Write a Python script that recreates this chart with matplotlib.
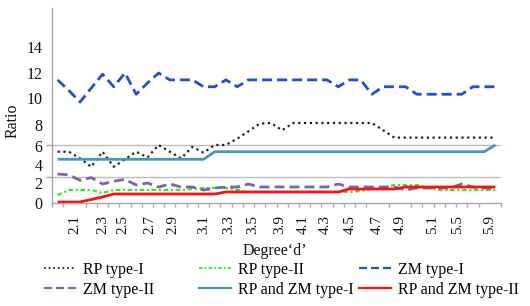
import numpy as np
import matplotlib
matplotlib.use('Agg')
import matplotlib.pyplot as plt
from matplotlib.lines import Line2D

plt.rcParams['font.family'] = ['Liberation Serif', 'DejaVu Serif']

# ---- data ----
x_labels = ['2.1', '2.3', '2.5', '2.7', '2.9', '3.1', '3.3', '3.5', '3.9',
            '4.1', '4.3', '4.5', '4.7', '4.9', '5.1', '5.5', '5.9']
x_label_pos = [1.5, 4.0, 5.8, 8.2, 10.3, 13.0, 15.2, 17.4, 19.8,
               21.9, 23.8, 26.1, 28.5, 30.5, 33.4, 35.6, 38.5]

rp_type1 = [5.4, 5.4, 4.7, 3.8, 5.4, 3.8, 4.6, 5.4, 4.8, 6.1,
            5.4, 4.7, 5.9, 5.3, 6.1, 6.1, 6.7, 7.4, 8.1, 8.15,
            7.5, 8.15, 8.15, 8.15, 8.15, 8.15, 8.15, 8.15, 8.15, 7.5,
            6.8, 6.8, 6.8, 6.8, 6.8, 6.8, 6.8, 6.8, 6.8, 6.8]
rp_type2 = [0.8, 1.3, 1.3, 1.3, 1.0, 1.3, 1.3, 1.3, 1.3, 1.3,
            1.3, 1.3, 1.4, 1.5, 1.5, 1.5, 1.3, 1.1, 1.1, 1.1,
            1.1, 1.1, 1.1, 1.1, 1.1, 1.1, 1.1, 1.2, 1.4, 1.5,
            1.8, 1.8, 1.8, 1.5, 1.3, 1.3, 1.3, 1.3, 1.3, 1.3]
zm_type1 = [11.45, 10.6, 9.7, 10.8, 11.9, 10.9, 12.0, 10.3, 11.2, 12.0,
            11.45, 11.45, 11.45, 10.9, 10.9, 11.45, 10.9, 11.45, 11.45, 11.45,
            11.45, 11.45, 11.45, 11.45, 11.45, 10.9, 11.45, 11.45, 10.3, 10.9,
            10.9, 10.9, 10.3, 10.3, 10.3, 10.3, 10.3, 10.9, 10.9, 10.9]
zm_type2 = [3.0, 2.9, 2.3, 2.6, 1.9, 2.2, 2.4, 1.8, 2.0, 1.6,
            1.9, 1.6, 1.6, 1.3, 1.5, 1.6, 1.6, 1.9, 1.6, 1.6,
            1.6, 1.6, 1.6, 1.6, 1.6, 1.9, 1.6, 1.6, 1.6, 1.6,
            1.6, 1.3, 1.5, 1.5, 1.5, 1.5, 1.9, 1.6, 1.5, 1.5]
rpzm_type1 = [4.6, 4.6, 4.6, 4.6, 4.6, 4.6, 4.6, 4.6, 4.6, 4.6,
              4.6, 4.6, 4.6, 4.6, 5.4, 5.4, 5.4, 5.4, 5.4, 5.4,
              5.4, 5.4, 5.4, 5.4, 5.4, 5.4, 5.4, 5.4, 5.4, 5.4,
              5.4, 5.4, 5.4, 5.4, 5.4, 5.4, 5.4, 5.4, 5.4, 6.1]
rpzm_type2 = [0.1, 0.1, 0.1, 0.35, 0.6, 0.9, 0.9, 0.9, 0.9, 0.9,
              0.9, 0.9, 0.9, 0.9, 0.9, 1.1, 1.1, 1.1, 1.1, 1.1,
              1.1, 1.1, 1.1, 1.1, 1.1, 1.1, 1.4, 1.4, 1.4, 1.4,
              1.4, 1.6, 1.6, 1.6, 1.6, 1.6, 1.6, 1.6, 1.6, 1.6]

y_tick_vals = [0, 2, 4, 6, 8, 10, 12, 14]
grid_levels = [2.67, 6.1, 8, 10, 12, 14]

# the printed axis is not uniform: value -> relative height
scale_vals = [0, 2, 4, 6, 8, 10, 12, 14, 17]
scale_h = [0, 20, 38, 57, 78, 105, 130, 156, 195]

def fwd(v):
    return np.interp(v, scale_vals, scale_h)

def inv(h):
    return np.interp(h, scale_h, scale_vals)

# ---- figure ----
W, H = 530, 306
fig = plt.figure(figsize=(W / 100, H / 100), dpi=100)
ax = fig.add_axes([52 / W, 1 - 203 / H, (501 - 52) / W, (203 - 8) / H])
ax.set_yscale('function', functions=(fwd, inv))

n = len(rp_type1)
x = np.arange(n)

series = [
    (rp_type1, 'RP type-I', dict(color='#202020', lw=1.6, ls=(0, (1, 1.6)))),
    (rp_type2, 'RP type-II', dict(color='#22ee22', lw=1.6, ls=(0, (2, 1.2, 1, 1.2)))),
    (zm_type1, 'ZM type-I', dict(color='#1d4fd8', lw=2.0, ls=(0, (3.6, 1.8)))),
    (zm_type2, 'ZM type-II', dict(color='#7f63a8', lw=2.0, ls=(0, (3.6, 1.8)))),
    (rpzm_type1, 'RP and ZM type-I', dict(color='#4299b2', lw=2.0, ls='-')),
    (rpzm_type2, 'RP and ZM type-II', dict(color='#ff1010', lw=2.0, ls='-')),
]
handles = []
for vals, name, st in series:
    ax.plot(x, vals, color=st['color'], lw=st['lw'], linestyle=st['ls'],
            solid_capstyle='butt')
    handles.append(Line2D([], [], color=st['color'], lw=st['lw'] * 0.8,
                          linestyle=st['ls'], label=name))

ax.set_xlim(-0.5, n - 0.5)
ax.set_ylim(0, 17)

gray = '#a8a8a8'
for s in ['top', 'right']:
    ax.spines[s].set_visible(False)
for s in ['left', 'bottom']:
    ax.spines[s].set_color(gray)
    ax.spines[s].set_linewidth(1.0)

ax.set_yticks(y_tick_vals)
ax.set_yticklabels([str(v) for v in y_tick_vals])
ax.set_yticks(grid_levels, minor=True)
ax.tick_params(axis='y', which='major', length=0, pad=7, labelsize=11.5, labelcolor='#111111')
ax.tick_params(axis='y', which='minor', length=4, color=gray, width=1)
ax.yaxis.grid(True, which='minor', color='#bdbdbd', lw=1.0)
ax.yaxis.grid(False, which='major')

ax.set_xticks(x_label_pos)
ax.set_xticklabels(x_labels, rotation=90)
ax.set_xticks(np.arange(n + 1) - 0.5, minor=True)
ax.tick_params(axis='x', which='major', length=0, pad=9, labelsize=11, labelcolor='#111111')
ax.tick_params(axis='x', which='minor', length=3, color=gray, width=1)
ax.set_axisbelow(True)

fig.text(13 / W, 1 - 121 / H, 'Ratio', rotation=90, ha='center', va='center',
         fontsize=11.5, color='#111111')
fig.text(275 / W, 1 - 251 / H, 'Degree\u2018d\u2019', ha='center', va='center',
         fontsize=11.5, color='#111111')

# legend: three fixed columns of two rows
col_x = [44, 199, 359]
order = [[0, 3], [1, 4], [2, 5]]
for cx, idx in zip(col_x, order):
    fig.legend([handles[i] for i in idx], [handles[i].get_label() for i in idx],
               loc='upper left', bbox_to_anchor=(cx / W, 1 - 262 / H),
               frameon=False, fontsize=11.5, handlelength=2.0, handletextpad=0.45,
               labelspacing=0.25, borderaxespad=0, borderpad=0)

fig.savefig('out.png', dpi=100)
